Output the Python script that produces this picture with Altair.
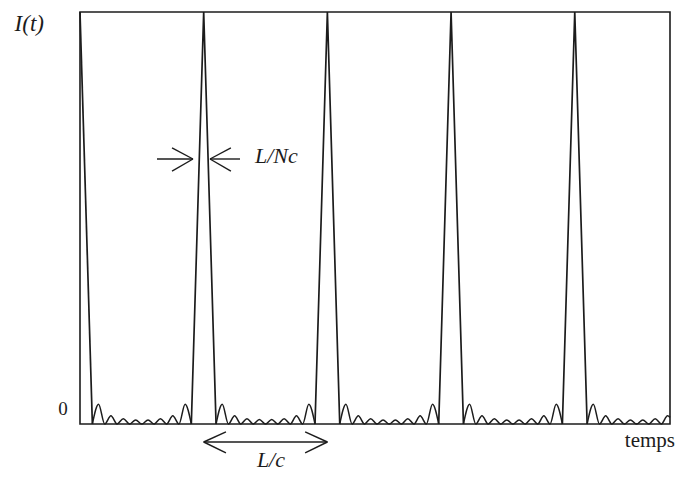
import altair as alt
import pandas as pd

# Curve: time in units of L/c, intensity normalised to the peak
T = [
    0.00, 0.10, 0.15, 0.20, 0.25, 0.30, 0.35, 0.40, 0.45, 0.50, 0.55, 0.60, 0.65, 0.70, 0.75, 0.80, 0.85, 0.90,
    1.00, 1.10, 1.15, 1.20, 1.25, 1.30, 1.35, 1.40, 1.45, 1.50, 1.55, 1.60, 1.65, 1.70, 1.75, 1.80, 1.85, 1.90,
    2.00, 2.10, 2.15, 2.20, 2.25, 2.30, 2.35, 2.40, 2.45, 2.50, 2.55, 2.60, 2.65, 2.70, 2.75, 2.80, 2.85, 2.90,
    3.00, 3.10, 3.15, 3.20, 3.25, 3.30, 3.35, 3.40, 3.45, 3.50, 3.55, 3.60, 3.65, 3.70, 3.75, 3.80, 3.85, 3.90,
    4.00, 4.10, 4.15, 4.20, 4.25, 4.30, 4.35, 4.40, 4.45, 4.50, 4.55, 4.60, 4.65, 4.70, 4.75, 4.77,
]
I = [
    1.00, 0.0, 0.048, 0.0, 0.020, 0.0, 0.013, 0.0, 0.010, 0.0, 0.010, 0.0, 0.013, 0.0, 0.020, 0.0, 0.048, 0.0,
    1.00, 0.0, 0.048, 0.0, 0.020, 0.0, 0.013, 0.0, 0.011, 0.0, 0.011, 0.0, 0.013, 0.0, 0.020, 0.0, 0.048, 0.0,
    1.00, 0.0, 0.048, 0.0, 0.020, 0.0, 0.013, 0.0, 0.010, 0.0, 0.010, 0.0, 0.013, 0.0, 0.020, 0.0, 0.048, 0.0,
    1.00, 0.0, 0.048, 0.0, 0.020, 0.0, 0.013, 0.0, 0.010, 0.0, 0.010, 0.0, 0.013, 0.0, 0.020, 0.0, 0.048, 0.0,
    1.00, 0.0, 0.048, 0.0, 0.020, 0.0, 0.013, 0.0, 0.010, 0.0, 0.010, 0.0, 0.013, 0.0, 0.020, 0.016,
]
PEAKS = [0, 1, 2, 3, 4]
T_MAX = 4.77

# Annotation texts
LABELS = ["I(t)", "0", "L/Nc", "L/c", "temps"]
LABEL_T = [-0.41, -0.137, 1.415, 1.43, 4.405]
LABEL_I = [0.955, 0.022, 0.633, -0.105, -0.056]
LABEL_ITALIC = [True, False, True, True, False]
LABEL_ALIGN = ["center", "center", "left", "left", "left"]

# Arrow segments (t, I) -> (t2, I2)
SEG_T = [0.6225, 0.744, 0.744, 1.051, 1.220, 1.220, 1.000, 1.000, 1.000, 2.000, 2.000]
SEG_I = [0.6432, 0.670, 0.614, 0.6432, 0.670, 0.614, -0.0437, -0.0437, -0.0437, -0.0437, -0.0437]
SEG_T2 = [0.9136, 0.9136, 0.9136, 1.2936, 1.051, 1.051, 2.000, 1.180, 1.180, 1.820, 1.820]
SEG_I2 = [0.6432, 0.6432, 0.6432, 0.6432, 0.6432, 0.6432, -0.0437, -0.019, -0.070, -0.019, -0.070]

eps = 1e-9
rows = []
for p in PEAKS:
    for t, v in zip(T, I):
        if p - 0.1 - eps <= t <= p + 0.1 + eps:
            rows.append({"t": t, "I": v, "group": f"peak{p}", "part": "peak"})
        if p + 0.1 - eps <= t <= p + 0.9 + eps:
            rows.append({"t": t, "I": v, "group": f"lobes{p}", "part": "lobes"})
curve = pd.DataFrame(rows)

labels = pd.DataFrame({"t": LABEL_T, "I": LABEL_I, "label": LABELS,
                       "italic": LABEL_ITALIC, "align": LABEL_ALIGN})
segs = pd.DataFrame({"t": SEG_T, "I": SEG_I, "t2": SEG_T2, "I2": SEG_I2})

xs = alt.Scale(domain=[0, T_MAX], nice=False, zero=False)
ys = alt.Scale(domain=[0, 1], nice=False, zero=False)
INK = "#1c1c1c"

base = alt.Chart(curve)
peaks = base.transform_filter(alt.datum.part == "peak").mark_line(
    color=INK, strokeWidth=1.7, interpolate="linear"
).encode(
    x=alt.X("t:Q", scale=xs, axis=None),
    y=alt.Y("I:Q", scale=ys, axis=None),
    detail="group:N",
    order="t:Q",
)
lobes = base.transform_filter(alt.datum.part == "lobes").mark_line(
    color=INK, strokeWidth=1.5, interpolate="monotone"
).encode(
    x=alt.X("t:Q", scale=xs, axis=None),
    y=alt.Y("I:Q", scale=ys, axis=None),
    detail="group:N",
    order="t:Q",
)

arrows = alt.Chart(segs).mark_rule(color=INK, strokeWidth=1.4).encode(
    x=alt.X("t:Q", scale=xs, axis=None),
    y=alt.Y("I:Q", scale=ys, axis=None),
    x2="t2:Q",
    y2="I2:Q",
)

def text_layer(italic, align, size):
    return alt.Chart(labels).transform_filter(
        (alt.datum.italic == italic) & (alt.datum.align == align)
    ).mark_text(
        font="Liberation Serif", fontSize=size, fontStyle="italic" if italic else "normal",
        align=align, baseline="alphabetic", color=INK,
    ).encode(
        x=alt.X("t:Q", scale=xs, axis=None),
        y=alt.Y("I:Q", scale=ys, axis=None),
        text="label:N",
    )

texts = [
    text_layer(True, "center", 23),
    text_layer(True, "left", 22),
    text_layer(False, "center", 19),
    text_layer(False, "left", 21),
]

chart = alt.layer(peaks, lobes, arrows, *texts).properties(
    width=590,
    height=412,
    padding={"left": 72, "top": 4, "right": 9, "bottom": 50},
    autosize=alt.AutoSizeParams(type="none"),
    background="white",
).configure_view(stroke=INK, strokeWidth=1.6)

chart.save("out.html", embed_options={"renderer": "svg", "actions": False})
